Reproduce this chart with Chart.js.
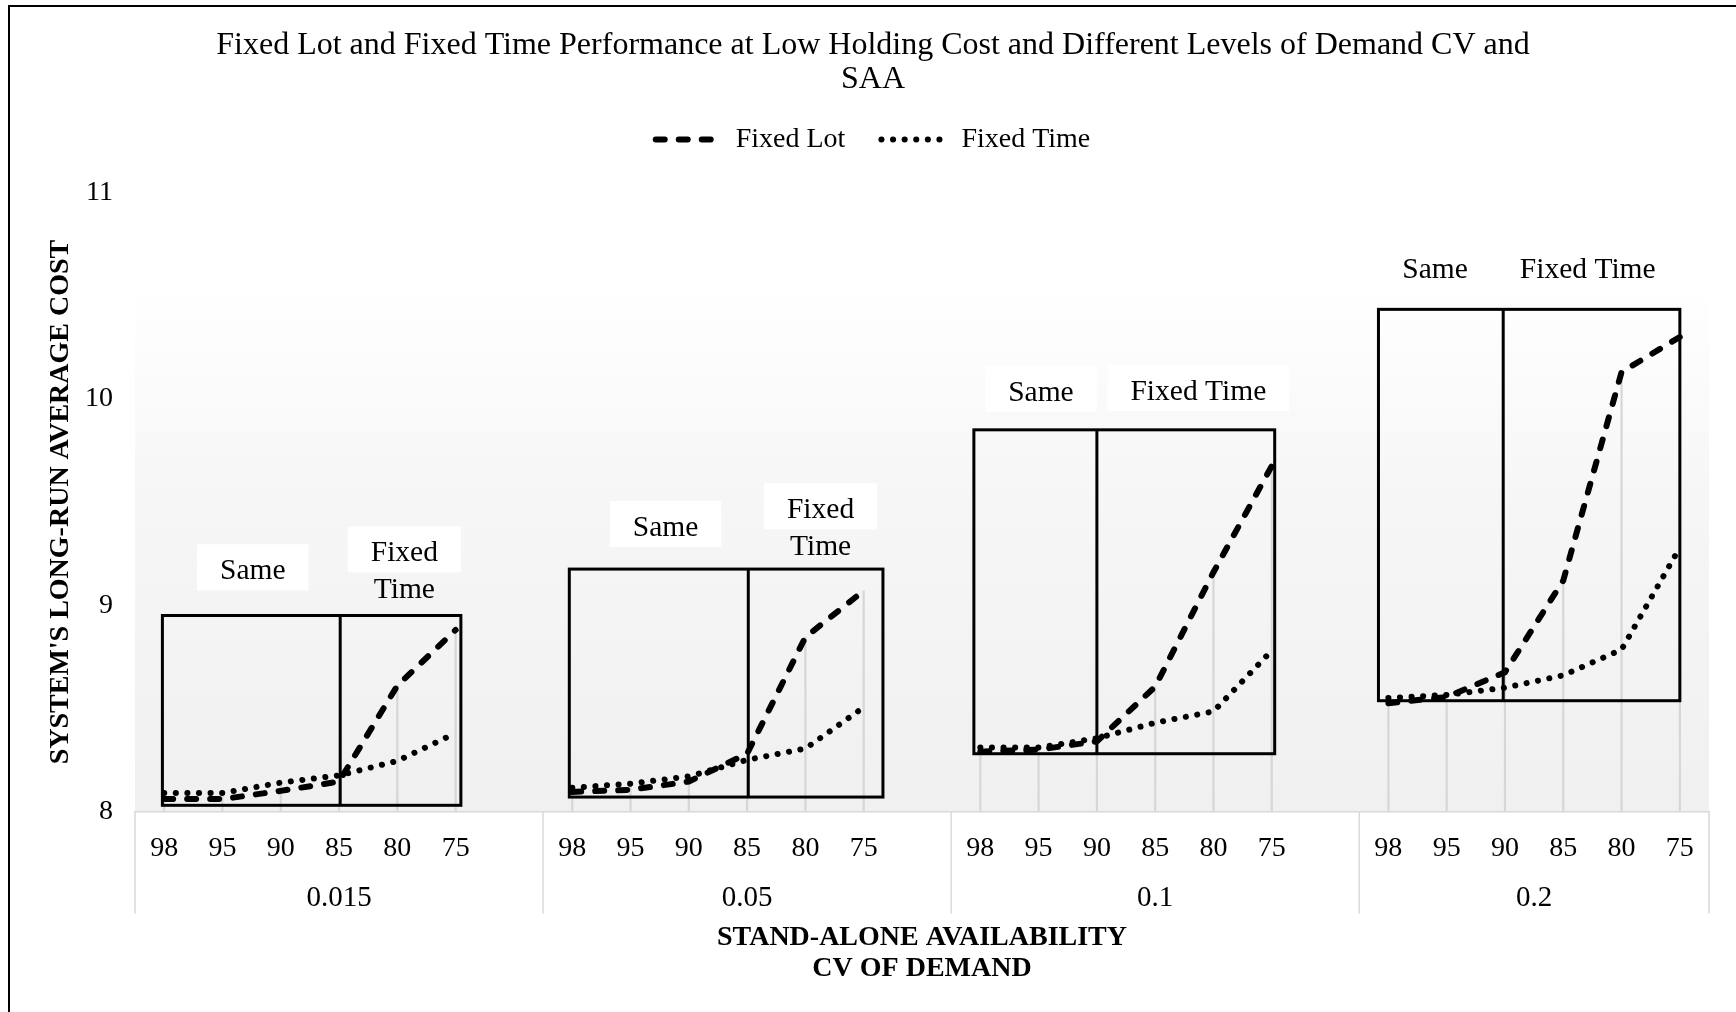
<!DOCTYPE html>
<html>
<head>
<meta charset="utf-8">
<script src="https://cdn.jsdelivr.net/npm/chart.js@4.4.0/dist/chart.umd.min.js"></script>
<style>
  html, body { margin: 0; padding: 0; background: #fff; }
  #wrap { position: relative; width: 1736px; height: 1012px; overflow: hidden; }
  #frame { position: absolute; left: 8px; top: 5px; width: 1760px; height: 1040px; border-left: 2px solid #000; border-top: 2px solid #000; pointer-events: none; }
</style>
</head>
<body>
<div id="wrap">
  <canvas id="myChart" width="1736" height="1012"></canvas>
  <div id="frame"></div>
</div>
<script>
// stand-alone availability (inner axis) and CV of demand (outer axis)
var availability = ['98', '95', '90', '85', '80', '75'];
var cvDemand = ['0.015', '0.05', '0.1', '0.2'];

// one row per CV level, one value per availability level
var fixedLot = [
  [8.06, 8.06, 8.10, 8.145, 8.61, 8.88],
  [8.095, 8.105, 8.145, 8.28, 8.845, 9.07],
  [8.29, 8.30, 8.34, 8.605, 9.16, 9.675],
  [8.525, 8.555, 8.675, 9.12, 10.13, 10.30]
];
var fixedTime = [
  [8.09, 8.09, 8.14, 8.175, 8.245, 8.38],
  [8.115, 8.135, 8.17, 8.25, 8.305, 8.505],
  [8.31, 8.31, 8.355, 8.43, 8.485, 8.78],
  [8.55, 8.565, 8.60, 8.66, 8.785, 9.28]
];

var titleLines = ['Fixed Lot and Fixed Time Performance at Low Holding Cost and Different Levels of Demand CV and', 'SAA'];

// boxes the author drew over each group (category index / cost value)
var regions = [
  { from: -0.03, to: 5.09, low: 8.03, high: 8.95, split: 3.02 },
  { from: 6.95, to: 12.33, low: 8.07, high: 9.175, split: 10.02 },
  { from: 13.89, to: 19.05, low: 8.28, high: 9.85, split: 16.0 },
  { from: 20.83, to: 26.0, low: 8.537, high: 10.434, split: 22.97 }
];
var regionNotes = [
  { x: 1.52, y: 9.164, text: ['Same'] },
  { x: 4.12, y: 9.251, text: ['Fixed', 'Time'] },
  { x: 8.6, y: 9.374, text: ['Same'] },
  { x: 11.26, y: 9.46, text: ['Fixed', 'Time'] },
  { x: 15.04, y: 10.029, text: ['Same'] },
  { x: 17.74, y: 10.034, text: ['Fixed Time'] },
  { x: 21.8, y: 10.625, text: ['Same'] },
  { x: 24.42, y: 10.625, text: ['Fixed Time'] }
];

var serif = "'Liberation Serif', 'Times New Roman', serif";
Chart.defaults.font.family = serif;
Chart.defaults.color = '#000';

// flatten groups, with an empty slot between them
var labels = [], lotData = [], timeData = [], dropData = [];
cvDemand.forEach(function (cv, g) {
  if (g > 0) {
    labels.push('');
    lotData.push(null);
    timeData.push(null);
    dropData.push(null);
  }
  availability.forEach(function (a, i) {
    labels.push(a);
    lotData.push(fixedLot[g][i]);
    timeData.push(fixedTime[g][i]);
    dropData.push(Math.max(fixedLot[g][i], fixedTime[g][i]));
  });
});

var backdrop = {
  id: 'backdrop',
  beforeDraw: function (chart) {
    var ctx = chart.ctx, a = chart.chartArea;
    var grad = ctx.createLinearGradient(0, a.top, 0, a.bottom);
    grad.addColorStop(0, '#ffffff');
    grad.addColorStop(0.15, '#ffffff');
    grad.addColorStop(0.5, '#f6f6f6');
    grad.addColorStop(1, '#f0f0f0');
    ctx.save();
    ctx.fillStyle = grad;
    ctx.fillRect(a.left, a.top, a.right - a.left, a.bottom - a.top);
    ctx.restore();
  }
};

var groupAxis = {
  id: 'groupAxis',
  afterDraw: function (chart) {
    var ctx = chart.ctx, a = chart.chartArea, x = chart.scales.x;
    var last = labels.length - 0.5;
    ctx.save();
    ctx.strokeStyle = '#d9d9d9';
    ctx.lineWidth = 1.5;
    ctx.fillStyle = '#000';
    ctx.font = '29px ' + serif;
    ctx.textAlign = 'center';
    ctx.textBaseline = 'middle';
    var edges = [];
    cvDemand.forEach(function (cv, g) {
      var start = g * 7 - 0.5;
      var end = Math.min(start + 7, last);
      edges.push(x.getPixelForValue(start));
      ctx.fillText(cv, (x.getPixelForValue(start) + x.getPixelForValue(end)) / 2, a.bottom + 87);
    });
    edges.push(x.getPixelForValue(last));
    edges.forEach(function (px) {
      ctx.beginPath();
      ctx.moveTo(px, a.bottom);
      ctx.lineTo(px, a.bottom + 102);
      ctx.stroke();
    });
    ctx.restore();
  }
};

var regionMarks = {
  id: 'regionMarks',
  afterDatasetsDraw: function (chart) {
    var ctx = chart.ctx, x = chart.scales.x, y = chart.scales.y;
    ctx.save();
    ctx.strokeStyle = '#000';
    ctx.lineWidth = 3;
    regions.forEach(function (r) {
      var x0 = x.getPixelForValue(r.from), x1 = x.getPixelForValue(r.to);
      var yt = y.getPixelForValue(r.high), yb = y.getPixelForValue(r.low);
      ctx.strokeRect(x0, yt, x1 - x0, yb - yt);
      var xs = x.getPixelForValue(r.split);
      ctx.beginPath();
      ctx.moveTo(xs, yt);
      ctx.lineTo(xs, yb);
      ctx.stroke();
    });
    ctx.font = '29.5px ' + serif;
    ctx.textAlign = 'center';
    ctx.textBaseline = 'middle';
    regionNotes.forEach(function (n) {
      var cx = x.getPixelForValue(n.x), cy = y.getPixelForValue(n.y);
      var w = ctx.measureText(n.text[0]).width + 46;
      ctx.fillStyle = '#fff';
      ctx.fillRect(cx - w / 2, cy - 27, w, 46);
      ctx.fillStyle = '#000';
      n.text.forEach(function (line, i) {
        ctx.fillText(line, cx, cy + i * 37);
      });
    });
    ctx.restore();
  }
};

var ctx = document.getElementById('myChart').getContext('2d');
var myChart = new Chart(ctx, {
  type: 'line',
  data: {
    labels: labels,
    datasets: [{
      label: 'Fixed Lot',
      data: lotData,
      borderColor: '#000',
      backgroundColor: '#000',
      borderWidth: 6,
      borderDash: [9, 14],
      borderCapStyle: 'round',
      pointRadius: 0,
      tension: 0,
      spanGaps: false,
      order: 1
    }, {
      label: 'Fixed Time',
      data: timeData,
      borderColor: '#000',
      backgroundColor: '#000',
      borderWidth: 6,
      borderDash: [0.1, 11.5],
      borderCapStyle: 'round',
      pointRadius: 0,
      tension: 0,
      spanGaps: false,
      order: 2
    }, {
      // drop lines
      type: 'bar',
      label: 'drop',
      data: dropData,
      backgroundColor: '#d6d6d6',
      barThickness: 1.5,
      order: 3
    }]
  },
  options: {
    responsive: false,
    animation: false,
    layout: { padding: { top: 10, left: 10, right: 0, bottom: 10 } },
    plugins: {
      tooltip: { enabled: false },
      title: {
        display: true,
        text: titleLines,
        color: '#000',
        font: { size: 32, weight: 'normal', lineHeight: 1.07 },
        padding: { top: 18.4, bottom: -7.4 }
      },
      legend: {
        position: 'top',
        labels: {
          usePointStyle: true,
          pointStyle: 'line',
          pointStyleWidth: 66,
          padding: 36,
          color: '#000',
          font: { size: 28 },
          generateLabels: function (chart) {
            var items = Chart.defaults.plugins.legend.labels.generateLabels(chart);
            return items.filter(function (item) { return item.datasetIndex !== 2; }).map(function (item) {
              var ds = chart.data.datasets[item.datasetIndex];
              item.lineDash = ds.borderDash;
              item.lineWidth = ds.borderWidth;
              item.lineCap = 'round';
              item.strokeStyle = '#000';
              item.pointStyle = 'line';
              return item;
            });
          }
        }
      }
    },
    scales: {
      x: {
        offset: true,
        ticks: { autoSkip: false, maxRotation: 0, padding: 20, color: '#000', font: { size: 28 } },
        grid: { display: false, drawTicks: false },
        border: { display: true, color: '#d9d9d9', width: 1.5 },
        title: {
          display: true,
          text: ['STAND-ALONE AVAILABILITY', 'CV OF DEMAND'],
          color: '#000',
          font: { size: 28, weight: 'bold', lineHeight: 1.107 },
          padding: { top: 0, bottom: 18 }
        },
        afterFit: function (s) { s.height = 190.5; }
      },
      xTop: {
        type: 'category',
        position: 'top',
        display: true,
        ticks: { display: false },
        grid: { display: false, drawTicks: false },
        border: { display: false },
        afterFit: function (s) { s.height = 29.1; }
      },
      y: {
        min: 8,
        max: 11,
        ticks: { stepSize: 1, padding: 22, color: '#000', font: { size: 28 } },
        grid: { display: false, drawTicks: false },
        border: { display: false },
        title: {
          display: true,
          text: "SYSTEM'S LONG-RUN AVERAGE COST",
          color: '#000',
          font: { size: 28, weight: 'bold' },
          padding: { top: 34, bottom: 0 }
        },
        afterFit: function (s) { s.width = 125; }
      },
      y2: {
        position: 'right',
        display: true,
        ticks: { display: false },
        grid: { display: false, drawTicks: false },
        border: { display: false },
        afterFit: function (s) { s.width = 27; }
      }
    }
  },
  plugins: [backdrop, groupAxis, regionMarks]
});
</script>
</body>
</html>
